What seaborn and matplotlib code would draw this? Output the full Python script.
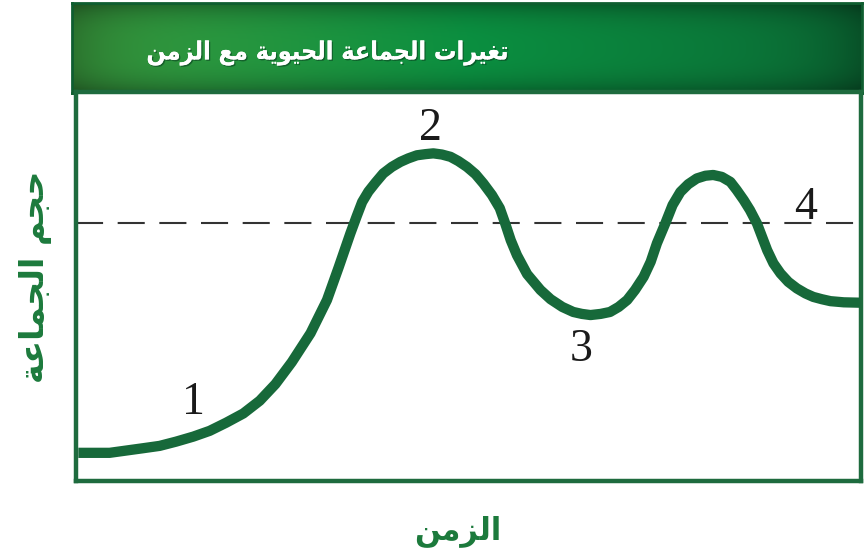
import numpy as np
import pandas as pd
import matplotlib
matplotlib.use("Agg")
import matplotlib.pyplot as plt
import seaborn as sns
from matplotlib.colors import to_rgb
import matplotlib.patheffects as pe

# ---------------- data ----------------
time = [0.0, 4.0, 8.3, 10.4, 12.5, 14.7, 16.8, 18.9, 21.1, 23.2, 25.2, 27.3,
        29.7, 31.8, 33.3, 34.8, 35.6, 36.3, 37.1, 38.0, 39.0, 40.1, 41.2, 42.2,
        43.3, 44.4, 45.4, 46.5, 47.6, 48.6, 49.7, 50.8, 51.8, 52.9, 53.9, 54.6,
        55.3, 56.1, 57.4, 59.1, 60.4, 61.9, 63.3, 64.4, 65.5, 66.8, 68.0, 69.1,
        70.2, 71.2, 72.3, 73.2, 74.0, 75.1, 76.0, 77.0, 78.0, 79.1, 80.2, 81.2,
        82.3, 83.4, 84.2, 85.1, 85.9, 86.8, 88.1, 88.9, 89.8, 90.8, 91.9, 93.0,
        94.0, 95.1, 96.2, 97.9, 100.0]
population = [6.8, 6.8, 8.0, 8.6, 9.7, 11.0, 12.5, 14.6, 17.0, 20.3, 24.6, 30.3,
              37.8, 46.4, 54.9, 63.7, 68.1, 71.8, 74.5, 76.8, 79.2, 80.9, 82.2,
              83.1, 83.9, 84.2, 84.4, 84.1, 83.5, 82.4, 80.9, 79.0, 76.6, 73.6,
              70.2, 66.2, 61.9, 58.0, 53.1, 49.0, 46.6, 44.6, 43.3, 42.8, 42.5,
              42.8, 43.3, 44.6, 46.4, 49.0, 52.4, 56.3, 61.1, 66.4, 71.0, 74.4,
              76.4, 77.9, 78.6, 78.8, 78.3, 77.0, 74.9, 72.3, 69.7, 66.2, 59.3,
              55.9, 53.3, 51.1, 49.4, 48.1, 47.2, 46.6, 46.1, 45.8, 45.7]
carrying_capacity = 66.3

point_labels = ["1", "2", "3", "4"]
label_time = [14.7, 45.0, 64.3, 93.0]
label_pop = [19.7, 90.9, 33.4, 70.2]

title_text = "تغيرات الجماعة الحيوية مع الزمن"
ylabel_text = "حجم الجماعة"
xlabel_text = "الزمن"

# ---------------- simple Arabic shaping ----------------
FORMS = {
    'ا': (0xFE8D, 0xFE8E, None, None),
    'ت': (0xFE95, 0xFE96, 0xFE97, 0xFE98),
    'ة': (0xFE93, 0xFE94, None, None),
    'ج': (0xFE9D, 0xFE9E, 0xFE9F, 0xFEA0),
    'ح': (0xFEA1, 0xFEA2, 0xFEA3, 0xFEA4),
    'ر': (0xFEAD, 0xFEAE, None, None),
    'ز': (0xFEAF, 0xFEB0, None, None),
    'ع': (0xFEC9, 0xFECA, 0xFECB, 0xFECC),
    'غ': (0xFECD, 0xFECE, 0xFECF, 0xFED0),
    'ل': (0xFEDD, 0xFEDE, 0xFEDF, 0xFEE0),
    'م': (0xFEE1, 0xFEE2, 0xFEE3, 0xFEE4),
    'ن': (0xFEE5, 0xFEE6, 0xFEE7, 0xFEE8),
    'و': (0xFEED, 0xFEEE, None, None),
    'ي': (0xFEF1, 0xFEF2, 0xFEF3, 0xFEF4),
}


def shape(s):
    out = []
    for i, c in enumerate(s):
        if c not in FORMS:
            out.append(c)
            continue
        prev = s[i - 1] if i > 0 else None
        nxt = s[i + 1] if i + 1 < len(s) else None
        jp = prev in FORMS and FORMS[prev][2] is not None
        jn = FORMS[c][2] is not None and nxt in FORMS
        if jp and jn:
            f = 3
        elif jp:
            f = 1
        elif jn:
            f = 2
        else:
            f = 0
        out.append(chr(FORMS[c][f]))
    return "".join(reversed(out))


# ---------------- figure ----------------
sns.set_style("white")
plt.rcParams['font.family'] = ['DejaVu Sans']

GREEN = "#17693a"
LABEL_GREEN = "#1c7a3c"

fig = plt.figure(figsize=(8.66, 5.53), dpi=100)

# banner
bax = fig.add_axes([72 / 866, (553 - 93) / 553, (862 - 72) / 866, (93 - 3) / 553])
w, h = 400, 60
xs = np.linspace(0, 1, w)
c_left = np.array(to_rgb("#3a9b3e"))
c_mid = np.array(to_rgb("#0b8f40"))
c_right = np.array(to_rgb("#0b6d36"))
cols = np.where(xs[:, None] < 0.5,
                c_left + (c_mid - c_left) * (xs[:, None] / 0.5),
                c_mid + (c_right - c_mid) * ((xs[:, None] - 0.5) / 0.5))
ys = np.linspace(-1, 1, h)
shade = 1 - 0.30 * np.abs(ys) ** 3
edge = 1 - 0.25 * np.abs(np.linspace(-1, 1, w)) ** 8
img = shade[:, None, None] * edge[None, :, None] * cols[None, :, :]
bax.imshow(img, aspect="auto", extent=[0, 1, 0, 1])
bax.set_xlim(0, 1)
bax.set_ylim(0, 1)
bax.set_xticks([])
bax.set_yticks([])
for sp in bax.spines.values():
    sp.set_color("#0f5e30")
    sp.set_linewidth(2)

fig.text(327 / 866, (553 - 53) / 553, shape(title_text), color="white",
         fontsize=18, fontweight="bold", fontstretch="condensed",
         ha="center", va="center",
         path_effects=[pe.withSimplePatchShadow(offset=(1, -1), shadow_rgbFace="#0a4020", alpha=0.6), pe.Normal()])

# main axes
ax = fig.add_axes([76 / 866, (553 - 481) / 553, (861 - 76) / 866, (481 - 92) / 553])
df = pd.DataFrame({"time": time, "population": population})
sns.lineplot(data=df, x="time", y="population", ax=ax, color=GREEN,
             linewidth=7.4, solid_capstyle="butt", solid_joinstyle="round", zorder=3)
ax.axhline(carrying_capacity, color="#333333", linewidth=1.5,
           dashes=(13, 7), zorder=2)

for lab, t, p in zip(point_labels, label_time, label_pop):
    ax.text(t, p, lab, fontsize=33, family=["Liberation Serif", "DejaVu Serif"],
            ha="center", va="center", color="#1a1a1a", zorder=4)

ax.set_xlim(-0.3, 100.1)
ax.set_ylim(-0.5, 100.3)
ax.set_xticks([])
ax.set_yticks([])
ax.set_xlabel("")
ax.set_ylabel("")
for sp in ax.spines.values():
    sp.set_visible(True)
    sp.set_color("#1e6b3e")
    sp.set_linewidth(3.2)

fig.text(36 / 866, (553 - 277) / 553, shape(ylabel_text), rotation=90,
         color=LABEL_GREEN, fontsize=24, fontweight="bold", ha="center", va="center")
fig.text(458 / 866, (553 - 531) / 553, shape(xlabel_text),
         color=LABEL_GREEN, fontsize=22, fontweight="bold", ha="center", va="center")

fig.savefig("out.png", dpi=100, facecolor="white")
